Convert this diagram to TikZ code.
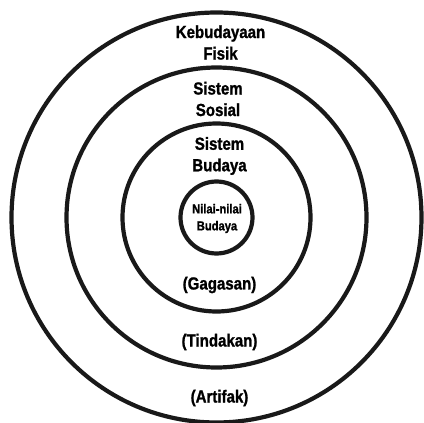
\documentclass[tikz,border=0pt]{standalone}
\usepackage{fontspec}
\setmainfont[FakeStretch=0.86, BoldFeatures={FakeBold=1.2}]{Liberation Sans}
\usepackage{tikz}
\tikzset{
  ring/.style={
    draw=black!90,
    line width=4.2pt,
  },
  label/.style={
    font=\bfseries\fontsize{17.5}{21.5}\selectfont,
    align=center,
    inner sep=0pt,
  }
}

\begin{document}
\begin{tikzpicture}[x=1pt, y=-1pt]
    \useasboundingbox (0, 0) rectangle (424, 423);
    \coordinate (center) at (216.5, 217.5);

    % the four layers
    \draw[ring] (center) circle (205);
    \draw[ring] (center) circle (150);
    \draw[ring] (center) circle (94);
    \draw[ring] (center) circle (36);

    \node[label] (fisik) at (220.5, 42.5) {Kebudayaan\\Fisik};
    \node[label] (sosial) at (218, 99) {Sistem\\Sosial};
    \node[label] (budaya) at (219.5, 156) {Sistem\\Budaya};
    \node[label, font=\bfseries\fontsize{13}{17}\selectfont] (nilai) at (217, 218.5) {Nilai-nilai\\Budaya};

    \node[label] (gagasan) at (219.5, 285) {(Gagasan)};
    \node[label] (tindakan) at (219.5, 342) {(Tindakan)};
    \node[label] (artifak) at (219.5, 398) {(Artifak)};
  
  \end{tikzpicture}
\end{document}
